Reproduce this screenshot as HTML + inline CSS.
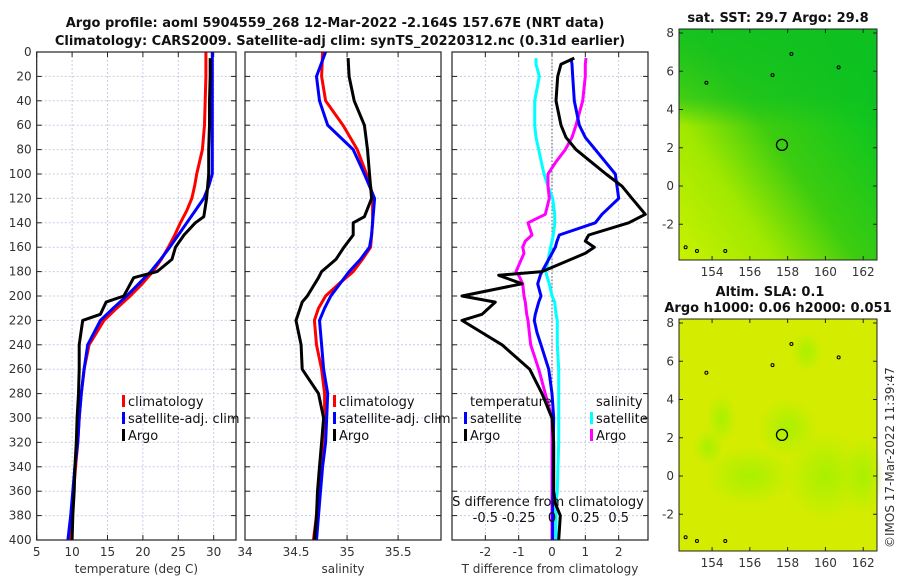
<!DOCTYPE html>
<html><head><meta charset="utf-8">
<style>
body{margin:0;background:#fff;}
svg{display:block;font-family:"DejaVu Sans","Liberation Sans",sans-serif;}
.tk{font-size:12px;fill:#333;}
.ttl{font-size:13px;font-weight:bold;fill:#111;}
.lg{font-size:13px;fill:#111;}
</style></head>
<body>
<svg id="chart" width="900" height="580" viewBox="0 0 900 580">
<defs>
<linearGradient id="sstg" x1="0" y1="1" x2="1" y2="0.2">
<stop offset="0" stop-color="#c8f200"/><stop offset="0.3" stop-color="#a0e800"/><stop offset="0.55" stop-color="#3ccc10"/><stop offset="1" stop-color="#00c423"/>
</linearGradient>
<linearGradient id="sstTop" x1="0" y1="0" x2="0" y2="1">
<stop offset="0" stop-color="#10c020" stop-opacity="0.9"/><stop offset="0.3" stop-color="#10c020" stop-opacity="0.6"/><stop offset="0.42" stop-color="#10c020" stop-opacity="0"/>
</linearGradient>
<radialGradient id="blob"><stop offset="0" stop-color="#a8f000"/><stop offset="1" stop-color="#a8f000" stop-opacity="0"/></radialGradient>
</defs>
<text class="ttl" x="335" y="27" text-anchor="middle">Argo profile: aoml 5904559_268 12-Mar-2022 -2.164S 157.67E (NRT data)</text>
<text class="ttl" x="340" y="45" text-anchor="middle">Climatology: CARS2009. Satellite-adj clim: synTS_20220312.nc (0.31d earlier)</text>
<g id="p1"></g>
<g id="p2"></g>
<g id="p3"></g>
<g id="maps"></g>
</svg>
<script>
const NS="http://www.w3.org/2000/svg";
// ---- data ----
const depths=[0,20,40,60,80,100,110,120,130,140,150,160,170,180,190,200,210,220,240,260,280,300,320,340,360,380,400];
const climT=[28.9,28.9,28.8,28.7,28.4,27.6,27.3,26.9,26.2,25.3,24.5,23.6,22.6,21.4,19.9,18.2,16.3,14.5,12.4,11.7,11.3,11.0,10.8,10.5,10.2,10.0,9.7];
const satT=[29.8,29.8,29.8,29.8,29.8,29.8,29.3,28.6,27.4,26.2,25.0,23.8,22.5,21.1,19.4,17.7,15.8,14.0,12.2,11.7,11.3,11.0,10.8,10.4,10.1,9.8,9.4];
const argoDepth=[5,20,40,60,80,100,120,135,140,150,160,170,180,185,200,205,215,220,240,260,280,300,320,340,360,380,400];
const argoT=[29.5,29.5,29.4,29.4,29.3,29.3,29.0,28.6,27.4,25.8,24.6,24.1,22.0,18.7,17.3,14.8,14.0,11.5,11.0,11.0,10.9,10.7,10.6,10.4,10.3,10.1,10.0];
const climS=[34.76,34.75,34.79,34.96,35.10,35.19,35.23,35.25,35.25,35.25,35.24,35.23,35.15,35.06,34.92,34.79,34.72,34.68,34.70,34.75,34.78,34.78,34.76,34.74,34.72,34.70,34.67];
const satS=[34.79,34.70,34.73,34.81,35.06,35.17,35.22,35.27,35.26,35.25,35.24,35.22,35.13,35.02,34.93,34.84,34.78,34.73,34.75,34.77,34.81,34.80,34.79,34.76,34.74,34.72,34.70];
const argoS=[35.01,35.02,35.07,35.17,35.20,35.22,35.24,35.17,35.06,35.06,34.97,34.89,34.75,34.72,34.61,34.56,34.52,34.50,34.55,34.56,34.72,34.77,34.75,34.73,34.71,34.70,34.68];
const dDepth=[5,10,20,40,60,70,80,90,100,110,120,133,140,150,155,160,165,180,183,190,200,205,215,220,230,240,260,280,300,320,360,370,380,400];
const dTargo=[0.67,0.27,0.17,0.12,0.27,0.42,0.72,1.17,1.62,2.1,2.4,2.8,2.3,1.1,1.0,1.27,1.0,-0.3,-1.6,-0.9,-2.7,-1.7,-2.1,-2.7,-2.1,-1.5,-0.67,-0.3,0.0,0.05,0.05,0.1,0.25,0.2];
const dTsat=[0.57,0.6,0.62,0.67,0.82,1.0,1.3,1.6,1.9,1.95,2.0,1.5,1.3,0.22,0.15,0.1,0.0,-0.3,-0.35,-0.43,-0.33,-0.4,-0.5,-0.53,-0.45,-0.33,-0.1,0.0,0.05,0.04,0.03,0.02,0.02,0.02];
const dSargo=[0.255,0.25,0.25,0.23,0.18,0.15,0.1,0.03,-0.03,-0.03,-0.02,-0.05,-0.18,-0.15,-0.2,-0.22,-0.21,-0.27,-0.25,-0.22,-0.21,-0.2,-0.19,-0.18,-0.17,-0.16,-0.1,-0.05,0.0,0.0,0.0,0.0,0.0,0.0];
const dSsat=[-0.12,-0.12,-0.095,-0.13,-0.13,-0.12,-0.1,-0.08,-0.06,-0.03,0.005,0.02,0.02,0.01,0.0,-0.01,-0.02,-0.045,-0.04,-0.02,0.0,0.02,0.03,0.04,0.04,0.04,0.05,0.05,0.05,0.05,0.04,0.03,0.03,0.03];
const yTicks=[0,20,40,60,80,100,120,140,160,180,200,220,240,260,280,300,320,340,360,380,400];
const tTicks=[5,10,15,20,25,30];
const sTicks=[34,34.5,35,35.5];
const dTicks=[-2,-1,0,1,2];
const dsTicks=[-0.5,-0.25,0,0.25,0.5];
const dsLabels=["-0.5","-0.25","0","0.25","0.5"];
const lonTicks=[154,156,158,160,162];
const latTicks=[-2,0,2,4,6,8];
const floatLon=157.7, floatLat=2.15;

const Y0=52,Y1=540;
const yS=d=>Y0+d/400*(Y1-Y0);
function el(tag,attrs,parent,txt){const e=document.createElementNS(NS,tag);for(const k in attrs)e.setAttribute(k,attrs[k]);if(txt!==undefined)e.textContent=txt;parent.appendChild(e);return e;}

function panel(g,x0,x1,xmin,xmax,ticks,labels,showY,xlabel){
  const xs=v=>x0+(v-xmin)/(xmax-xmin)*(x1-x0);
  el('rect',{x:x0,y:Y0,width:x1-x0,height:Y1-Y0,fill:'#fff'},g);
  yTicks.forEach(d=>{
    const l=el('line',{x1:x0,x2:x1,y1:yS(d),y2:yS(d),stroke:'#c8cce8','stroke-dasharray':'2,2','stroke-width':1},g);
    
    el('line',{x1:x0,x2:x0+5,y1:yS(d),y2:yS(d),stroke:'#222'},g);
    el('line',{x1:x1-5,x2:x1,y1:yS(d),y2:yS(d),stroke:'#222'},g);
    if(showY){const t=el('text',{class:'tk',x:x0-5,y:yS(d)+4,'text-anchor':'end'},g,String(d));
      }
  });
  ticks.forEach((v,i)=>{
    const l=el('line',{x1:xs(v),x2:xs(v),y1:Y0,y2:Y1,stroke:'#c8cce8','stroke-dasharray':'2,2'},g);
    
    el('line',{x1:xs(v),x2:xs(v),y1:Y1,y2:Y1-5,stroke:'#222'},g);
    el('line',{x1:xs(v),x2:xs(v),y1:Y0,y2:Y0+5,stroke:'#222'},g);
    const t=el('text',{class:'tk',x:xs(v),y:Y1+16,'text-anchor':'middle'},g,labels[i]);
    
  });
  const xl=el('text',{class:'tk',x:(x0+x1)/2,y:Y1+33,'text-anchor':'middle','font-size':'13'},g,xlabel);
  
  return xs;
}
function frame(g,x0,x1){el('rect',{x:x0,y:Y0,width:x1-x0,height:Y1-Y0,fill:'none',stroke:'#222','stroke-width':1.2},g);}
function line(g,xs,vals,ds,color,name){
  const p=el('path',{d:vals.map((v,i)=>(i?'L':'M')+xs(v).toFixed(1)+','+yS(ds[i]).toFixed(1)).join(''),fill:'none',stroke:color,'stroke-width':3,'stroke-linejoin':'round'},g);
  
}
function legend(g,x,y,items){
  items.forEach((it,i)=>{
    el('rect',{x:x,y:y+i*17-9,width:3,height:12,fill:it[1]},g);
    const t=el('text',{class:'lg',x:x+6,y:y+i*17+2},g,it[0]);
    
  });
}
// Panel 1
const g1=document.getElementById('p1');
const xs1=panel(g1,36.7,236,5,33.15,tTicks,tTicks.map(String),true,'temperature (deg C)');
line(g1,xs1,climT,depths,'#ff0000','climatology-line');
line(g1,xs1,satT,depths,'#0000ff','satellite-line');
line(g1,xs1,argoT,argoDepth,'#000','argo-line');
frame(g1,36.7,236);
legend(g1,122,404,[['climatology','#f00'],['satellite-adj. clim','#00f'],['Argo','#000']]);
// Panel 2
const g2=document.getElementById('p2');
const xs2=panel(g2,245,441,34,35.92,sTicks,sTicks.map(String),false,'salinity');
line(g2,xs2,climS,depths,'#ff0000','climatology-line');
line(g2,xs2,satS,depths,'#0000ff','satellite-line');
line(g2,xs2,argoS,argoDepth,'#000','argo-line');
frame(g2,245,441);
legend(g2,333,404,[['climatology','#f00'],['satellite-adj. clim','#00f'],['Argo','#000']]);
// Panel 3
const g3=document.getElementById('p3');
const xs3=panel(g3,452,648,-3.0,2.88,dTicks,dTicks.map(String),false,'T difference from climatology');
el('line',{x1:xs3(0),x2:xs3(0),y1:Y0,y2:Y1,stroke:'#555','stroke-dasharray':'1.5,2'},g3);
const xsS=v=>xs3(v*4);
line(g3,xsS,dSsat,dDepth,'#00ffff','salinity-satellite-diff');
line(g3,xsS,dSargo,dDepth,'#ff00ff','salinity-argo-diff');
line(g3,xs3,dTsat,dDepth,'#0000ff','temperature-satellite-diff');
line(g3,xs3,dTargo,dDepth,'#000','temperature-argo-diff');
frame(g3,452,648);
const lt=el('text',{class:'lg',x:470,y:406},g3,'temperature');
const ls=el('text',{class:'lg',x:596,y:406},g3,'salinity');
legend(g3,464,421,[['satellite','#00f'],['Argo','#000']]);
legend(g3,590,421,[['satellite','#0ff'],['Argo','#f0f']]);
const st=el('text',{class:'lg',x:548,y:506,'text-anchor':'middle'},g3,'S difference from climatology');
dsTicks.forEach((v,i)=>{const t=el('text',{class:'lg',x:xsS(v),y:522,'text-anchor':'middle'},g3,dsLabels[i]);});

// Maps
const gm=document.getElementById('maps');
function map(mx0,mx1,my0,my1,lat8y,lat0y,kind,title){
  const lonS=v=>mx0+(v-152.25)/(162.73-152.25)*(mx1-mx0);
  const pxPerLat=(lat0y-lat8y)/8;
  const latS=v=>lat0y-v*pxPerLat;
  const g=el('g',{},gm);
  
  if(kind==='sst'){
    el('rect',{x:mx0,y:my0,width:mx1-mx0,height:my1-my0,fill:'url(#sstg)'},g);
    el('rect',{x:mx0,y:my0,width:mx1-mx0,height:my1-my0,fill:'url(#sstTop)'},g);
  } else {
    el('rect',{x:mx0,y:my0,width:mx1-mx0,height:my1-my0,fill:'#d4ec00'},g);
    [[156,0,45,30],[160,0,40,45],[158,2.5,30,30],[154.5,3,15,25],[159,6.5,15,20],[162,0,20,40],[153.8,1.5,15,18]].forEach(b=>{
      el('ellipse',{cx:lonS(b[0]),cy:latS(b[1]),rx:b[2],ry:b[3],fill:'url(#blob)'},g);});
  }
  [[158.2,6.9],[153.7,5.4],[157.2,5.8],[160.7,6.2],[152.6,-3.2],[153.2,-3.4],[154.7,-3.4]].forEach(c=>{
    el('circle',{cx:lonS(c[0]),cy:latS(c[1]),r:1.5,fill:'none',stroke:'#000','stroke-width':1},g);});
  const fl=el('circle',{cx:lonS(floatLon),cy:latS(floatLat),r:5.5,fill:'none',stroke:'#000','stroke-width':1.3},g);
  
  el('rect',{x:mx0,y:my0,width:mx1-mx0,height:my1-my0,fill:'none',stroke:'#222'},g);
  lonTicks.forEach(v=>{el('line',{x1:lonS(v),x2:lonS(v),y1:my1,y2:my1-4,stroke:'#222'},g);el('line',{x1:lonS(v),x2:lonS(v),y1:my0,y2:my0+4,stroke:'#222'},g);
    const t=el('text',{class:'tk',x:lonS(v),y:my1+16,'text-anchor':'middle'},g,String(v));});
  latTicks.forEach(v=>{el('line',{x1:mx0,x2:mx0+4,y1:latS(v),y2:latS(v),stroke:'#222'},g);el('line',{x1:mx1,x2:mx1-4,y1:latS(v),y2:latS(v),stroke:'#222'},g);
    const t=el('text',{class:'tk',x:mx0-5,y:latS(v)+4,'text-anchor':'end'},g,String(v));});
  title.forEach((tx,i)=>{const t=el('text',{class:'ttl',x:(mx0+mx1)/2+(title.length>1&&i==0?-8:0),y:my0-7-(title.length-1-i)*16,'text-anchor':'middle'},g,tx);});
}
map(679,877,29,260,33,186,'sst',['sat. SST: 29.7 Argo: 29.8']);
map(679,877,319,551,323,476,'sla',['Altim. SLA: 0.1','Argo h1000: 0.06 h2000: 0.051']);
const cr=el('text',{class:'tk',x:0,y:0,transform:'translate(894,548) rotate(-90)','font-size':'13'},gm,'©IMOS 17-Mar-2022 11:39:47');

</script>
</body></html>
